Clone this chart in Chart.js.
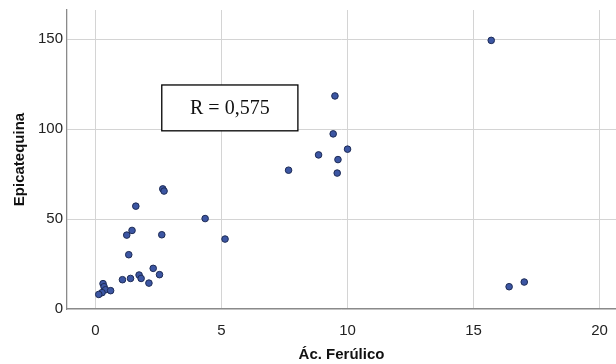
<!DOCTYPE html>
<html lang="es">
<head>
    <meta charset="UTF-8">
    <title>Epicatequina vs Ác. Ferúlico</title>
    <script src="https://cdn.jsdelivr.net/npm/chart.js"></script>
    <style>
        html, body { margin: 0; padding: 0; background: #fff; }
        #wrap { width: 616px; height: 364px; }
    </style>
</head>
<body>
    <div id="wrap"><canvas id="scatterChart" width="616" height="364"></canvas></div>

    <script>
        // datos
        const acFerulico = [
            2.67, 2.72, 1.60, 4.35, 5.14, 1.45, 1.24, 2.63, 1.32, 2.29,
            2.54, 1.07, 1.39, 1.73, 1.81, 2.12, 0.30, 0.34, 0.40, 0.60,
            0.26, 0.13, 9.50, 9.43, 10.00, 8.85, 9.62, 7.66, 9.59, 15.70,
            16.41, 17.01
        ];
        const epicatequina = [
            66.8, 65.6, 57.2, 50.3, 38.9, 43.7, 41.1, 41.3, 30.2, 22.6,
            19.1, 16.3, 17.0, 18.9, 17.0, 14.4, 14.1, 12.4, 10.7, 10.2,
            9.1, 8.1, 118.5, 97.4, 88.9, 85.7, 83.1, 77.2, 75.6, 149.4,
            12.4, 15.0
        ];
        const xTicks = [0, 5, 10, 15, 20];
        const yTicks = [0, 50, 100, 150];
        const rText = 'R = 0,575';

        const points = acFerulico.map((x, i) => ({ x: x, y: epicatequina[i] }));

        // cuadro con el coeficiente R
        const rBox = {
            id: 'rBox',
            afterDatasetsDraw(chart) {
                const ctx = chart.ctx;
                const xs = chart.scales.x, ys = chart.scales.y;
                const left = xs.getPixelForValue(2.63);
                const right = xs.getPixelForValue(8.03);
                const top = ys.getPixelForValue(124.6);
                const bottom = ys.getPixelForValue(99.1);
                ctx.save();
                ctx.fillStyle = '#fff';
                ctx.fillRect(left, top, right - left, bottom - top);
                ctx.strokeStyle = '#000';
                ctx.lineWidth = 1.3;
                ctx.strokeRect(left, top, right - left, bottom - top);
                ctx.fillStyle = '#111';
                ctx.font = '20px "Liberation Serif", "Times New Roman", serif';
                ctx.textAlign = 'center';
                ctx.textBaseline = 'middle';
                ctx.fillText(rText, (left + right) / 2, (top + bottom) / 2 + 1);
                ctx.restore();
            }
        };

        const tickFont = { family: '"Liberation Sans", Arial, sans-serif', size: 15 };
        const titleFont = { family: '"Liberation Sans", Arial, sans-serif', size: 15, weight: 'bold' };

        new Chart(document.getElementById('scatterChart'), {
            type: 'scatter',
            data: {
                datasets: [{
                    label: 'Epicatequina',
                    data: points,
                    backgroundColor: '#3c56a3',
                    borderColor: '#1d2b55',
                    borderWidth: 1,
                    pointRadius: 3.3
                }]
            },
            options: {
                responsive: false,
                animation: false,
                layout: { autoPadding: false, padding: { top: 10, right: 0, left: 0, bottom: 0 } },
                plugins: {
                    legend: { display: false },
                    tooltip: { enabled: false }
                },
                scales: {
                    x: {
                        type: 'linear',
                        min: -1.13,
                        max: 20.65,
                        afterBuildTicks: scale => { scale.ticks = xTicks.map(v => ({ value: v })); },
                        afterFit: scale => {
                            scale.height = 55;
                            scale.paddingLeft = 0;
                            scale.paddingRight = 0;
                        },
                        grid: { color: '#d4d4d4', lineWidth: 1, drawTicks: false },
                        border: { color: '#8a8a8a', width: 1.3 },
                        ticks: { font: tickFont, color: '#222', padding: 13, maxRotation: 0 },
                        title: { display: true, text: 'Ác. Ferúlico', font: titleFont, color: '#111', padding: { top: 4, bottom: 0 } }
                    },
                    y: {
                        type: 'linear',
                        min: 0,
                        max: 166.3,
                        afterBuildTicks: scale => { scale.ticks = yTicks.map(v => ({ value: v })); },
                        afterFit: scale => {
                            scale.width = 67;
                            scale.paddingTop = 0;
                            scale.paddingBottom = 0;
                        },
                        grid: { color: '#d4d4d4', lineWidth: 1, drawTicks: false },
                        border: { color: '#8a8a8a', width: 1.3 },
                        ticks: { font: tickFont, color: '#222', padding: 4 },
                        title: { display: true, text: 'Epicatequina', font: titleFont, color: '#111', padding: { top: 11, bottom: 0 } }
                    }
                }
            },
            plugins: [rBox]
        });
    </script>
</body>
</html>
